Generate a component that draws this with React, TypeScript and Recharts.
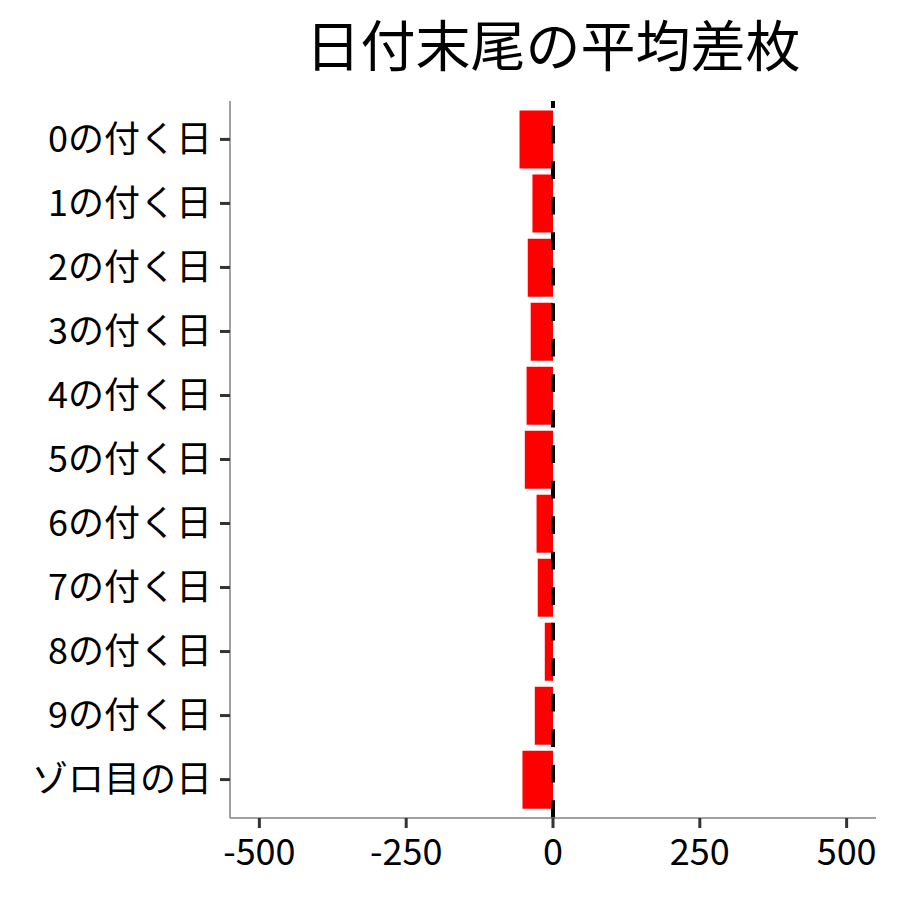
import React from "react";
import {
  BarChart,
  Bar,
  XAxis,
  YAxis,
  ReferenceLine,
} from "recharts";

// 日付末尾ごとの平均差枚（上から順に表示）
const DAY_LABELS = [
  "0の付く日",
  "1の付く日",
  "2の付く日",
  "3の付く日",
  "4の付く日",
  "5の付く日",
  "6の付く日",
  "7の付く日",
  "8の付く日",
  "9の付く日",
  "ゾロ目の日",
];
const AVG_DIFF = [-57, -35, -43, -38, -45, -48, -28, -26, -14, -31, -52];
const X_TICKS = [-500, -250, 0, 250, 500];

const FONT = '"Noto Sans CJK JP", "Noto Sans", sans-serif';

export default function App() {
  const data = DAY_LABELS.map((label, i) => ({ label, value: AVG_DIFF[i] }));

  return (
    <div
      style={{
        position: "absolute",
        left: 0,
        top: 0,
        width: 900,
        height: 900,
        background: "#fff",
        fontFamily: FONT,
      }}
    >
      {/* タイトルはパネル中央揃え */}
      <div
        style={{
          position: "absolute",
          left: 130,
          width: 846,
          top: 15,
          textAlign: "center",
          fontSize: 55,
          lineHeight: "55px",
          color: "#000",
          whiteSpace: "nowrap",
        }}
      >
        日付末尾の平均差枚
      </div>
      <BarChart
        width={900}
        height={900}
        data={data}
        layout="vertical"
        margin={{ top: 101, right: 24, bottom: 52, left: 0 }}
        barCategoryGap="5%"
      >
        <XAxis
          type="number"
          domain={[-550, 550]}
          ticks={X_TICKS}
          allowDataOverflow
          height={30}
          axisLine={{ stroke: "#808080", strokeWidth: 1.5 }}
          tickLine={{ stroke: "#333", strokeWidth: 3 }}
          tickSize={10}
          tickMargin={11}
          tick={{ fontFamily: FONT, fontSize: 36, fill: "#000" }}
        />
        <YAxis
          type="category"
          dataKey="label"
          width={230}
          padding={{ top: 6.4, bottom: 6.4 }}
          axisLine={{ stroke: "#808080", strokeWidth: 1.5 }}
          tickLine={{ stroke: "#333", strokeWidth: 3 }}
          tickSize={10}
          tickMargin={8}
          interval={0}
          tick={{ fontFamily: FONT, fontSize: 36, fill: "#000" }}
        />
        <Bar dataKey="value" fill="#ff0000" isAnimationActive={false} />
        <ReferenceLine
          x={0}
          stroke="#000"
          strokeWidth={4}
          strokeDasharray="17.75 17.75"
        />
      </BarChart>
    </div>
  );
}
